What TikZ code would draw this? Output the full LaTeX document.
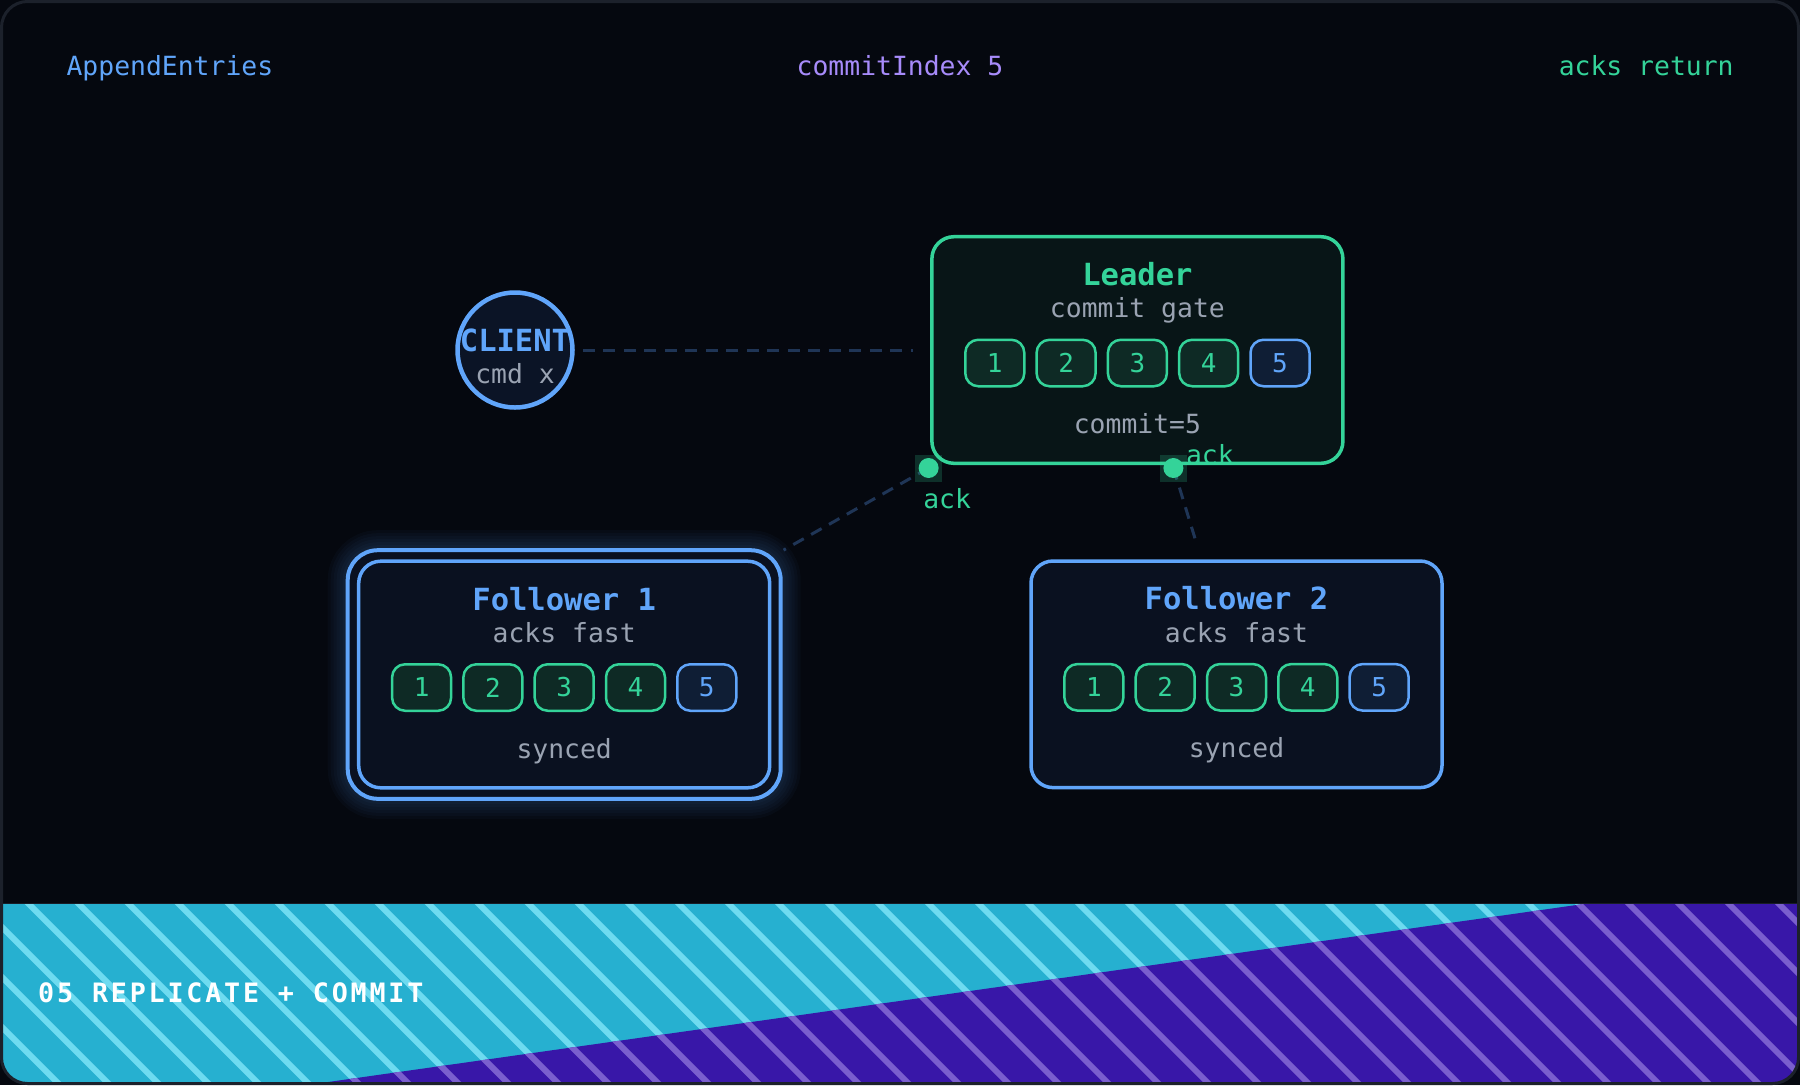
\documentclass[tikz,border=0pt]{standalone}
\usepackage{fontspec}
\setmonofont{DejaVu Sans Mono}
\newfontfamily\footfont[LetterSpace=10.5]{DejaVu Sans Mono}
\usetikzlibrary{calc,fit}
\pgfdeclarelayer{back}
\pgfdeclarelayer{bg}
\pgfsetlayers{back,bg,main}

\definecolor{canvas}{HTML}{05080F}
\definecolor{frame}{HTML}{1C212B}
\definecolor{footline}{HTML}{181D27}
\definecolor{cblue}{HTML}{60A5FA}
\definecolor{cgreen}{HTML}{34D399}
\definecolor{cpurple}{HTML}{A78BFA}
\definecolor{cgray}{HTML}{9AA3B2}
\definecolor{boxfill}{HTML}{0A1120}
\definecolor{leadfill}{HTML}{081517}
\definecolor{gcell}{HTML}{0E2A25}
\definecolor{bcell}{HTML}{0F1E35}
\definecolor{linkc}{HTML}{1F3556}
\definecolor{clientfill}{HTML}{0B1426}
\definecolor{cyanbg}{HTML}{26B0D0}
\definecolor{cyanstripe}{HTML}{6EDBF0}
\definecolor{purbg}{HTML}{3817A8}
\definecolor{purstripe}{HTML}{7A5FCE}

\newcommand\pxfont[1]{\fontsize{#1}{#1}\selectfont}

\tikzset{
  logbox/.style={rectangle, rounded corners=22pt, line width=3.5pt,
    minimum width=411pt, minimum height=226.6pt, inner sep=0pt, outer sep=4.7pt},
  titletxt/.style={anchor=base, inner sep=0pt, outer sep=0pt,
    font=\ttfamily\bfseries\pxfont{30.5}},
  subtxt/.style={anchor=base, inner sep=0pt, outer sep=0pt, text=cgray,
    font=\ttfamily\pxfont{26.4}},
  toptxt/.style={anchor=base, inner sep=0pt, outer sep=0pt,
    font=\ttfamily\pxfont{26.4}},
  cellbase/.style={rectangle, rounded corners=13pt, line width=2.5pt,
    minimum width=59pt, minimum height=46.5pt, inner sep=0pt,
    font=\ttfamily\pxfont{26}},
  gcellst/.style={cellbase, draw=cgreen, fill=gcell, text=cgreen},
  bcellst/.style={cellbase, draw=cblue, fill=bcell, text=cblue},
  link/.style={draw=linkc, line width=3pt, dash pattern=on 12pt off 8.5pt},
  dotsq/.style={rectangle, minimum size=27pt, inner sep=0pt, fill=cgreen, fill opacity=0.2},
  dotc/.style={circle, minimum size=20pt, inner sep=0pt, fill=cgreen},
  acktxt/.style={anchor=base west, inner sep=0pt, text=cgreen, font=\ttfamily\pxfont{26.4}},
  foottxt/.style={anchor=base west, inner sep=0pt, text=white,
    font=\footfont\bfseries\pxfont{26.7}},
}

\newcommand\raftbox[7]{%
  \node[logbox, draw=#3, fill=#4] (#1) at (#2) {};
  \node[titletxt, text=#3] (#1-t) at ($(#1.center)+(0,-64.5)$) {#5};
  \node[subtxt] (#1-s) at ($(#1.center)+(0,-32.3)$) {#6};
  \foreach \i/\dx in {1/-142.6,2/-71.3,3/0,4/71.3}
    \node[gcellst] (#1-c\i) at ($(#1.center)+(\dx,13)$) {\i};
  \node[bcellst] (#1-c5) at ($(#1.center)+(142.6,13)$) {5};
  \node[subtxt] (#1-f) at ($(#1.center)+(0,83.5)$) {#7};
}

\begin{document}
\begin{tikzpicture}[x=1pt,y=-1pt]
\useasboundingbox (0,0) rectangle (1800,1085);

% ---------- canvas and footer band ----------
\begin{pgfonlayer}{back}
  \fill[canvas] (0,0) rectangle (1800,1085);
  \begin{scope}
    \clip[rounded corners=26pt] (1.5,1.5) rectangle (1798.5,1083.5);
    \clip (0,903) rectangle (1800,1085);
    \fill[cyanbg] (0,903) rectangle (1800,1085);
    \foreach \k in {-5,...,36}
      \draw[cyanstripe, line width=6pt] ({28+50*\k-20},883) -- ++(230,230);
    \begin{scope}
      \clip (300,1086) -- (1800,873.3) -- (1800,1086) -- cycle;
      \fill[purbg] (0,850) rectangle (1800,1086);
      \foreach \k in {-5,...,36}
        \draw[purstripe, line width=6pt] ({28+50*\k-20},883) -- ++(230,230);
    \end{scope}
    \draw[footline, line width=2pt] (0,903) -- (1800,903);
  \end{scope}
  \draw[frame, line width=3pt, rounded corners=26pt] (1.5,1.5) rectangle (1798.5,1083.5);
\end{pgfonlayer}

% ---------- top labels ----------
\node[toptxt, anchor=base west, text=cblue] (lab1) at (66.6,75) {AppendEntries};
\node[toptxt, text=cpurple] (lab2) at (900,75) {commitIndex 5};
\node[toptxt, anchor=base east, text=cgreen] (lab3) at (1733.6,75) {acks return};

% ---------- client ----------
\node[circle, minimum size=115pt, inner sep=0pt, line width=4.5pt, draw=cblue, fill=clientfill] (C) at (515,350) {};
\node[titletxt, text=cblue] (C-t) at ($(C.center)+(0,1)$) {CLIENT};
\node[subtxt] (C-s) at ($(C.center)+(0,33)$) {cmd x};

% ---------- boxes ----------
\raftbox{L}{1137.4,350}{cgreen}{leadfill}{Leader}{commit gate}{commit=5}
\raftbox{F1}{564.2,674.5}{cblue}{boxfill}{Follower 1}{acks fast}{synced}
\raftbox{F2}{1236.5,674.3}{cblue}{boxfill}{Follower 2}{acks fast}{synced}

% ack points on the leader border
\path (L) -- (F1) coordinate[pos=0] (d1);
\path (L) -- (F2) coordinate[pos=0] (d2);

% ---------- connectors, glow and highlight ring ----------
\begin{pgfonlayer}{bg}
  \draw[link, shorten <=8pt, shorten >=14pt] (C) -- (L);
  \draw[link, shorten >=13pt] (d1) -- (F1);
  \draw[link, shorten >=13pt] (d2) -- (F2);
  \foreach \w in {40,34,28,22,16,10}
    \node[fit=(F1), inner sep=6.3pt, rounded corners=30pt, draw=cblue, line width=\w pt, draw opacity=0.03] (glow\w) {};
  \node[fit=(F1), inner sep=6.3pt, rounded corners=30pt, draw=cblue, line width=4pt, fill=boxfill] (F1ring) {};
\end{pgfonlayer}

% ---------- ack markers ----------
\node[dotsq] (d1sq) at (d1) {};
\node[dotc] (d1dot) at (d1) {};
\node[dotsq] (d2sq) at (d2) {};
\node[dotc] (d2dot) at (d2) {};
\node[acktxt] (ack1) at ($(d1)+(-5.5,40)$) {ack};
\node[acktxt] (ack2) at ($(d2)+(12.5,-4)$) {ack};

% ---------- footer text ----------
\node[foottxt] (foot) at (38,1002) {05 REPLICATE + COMMIT};
\end{tikzpicture}
\end{document}
